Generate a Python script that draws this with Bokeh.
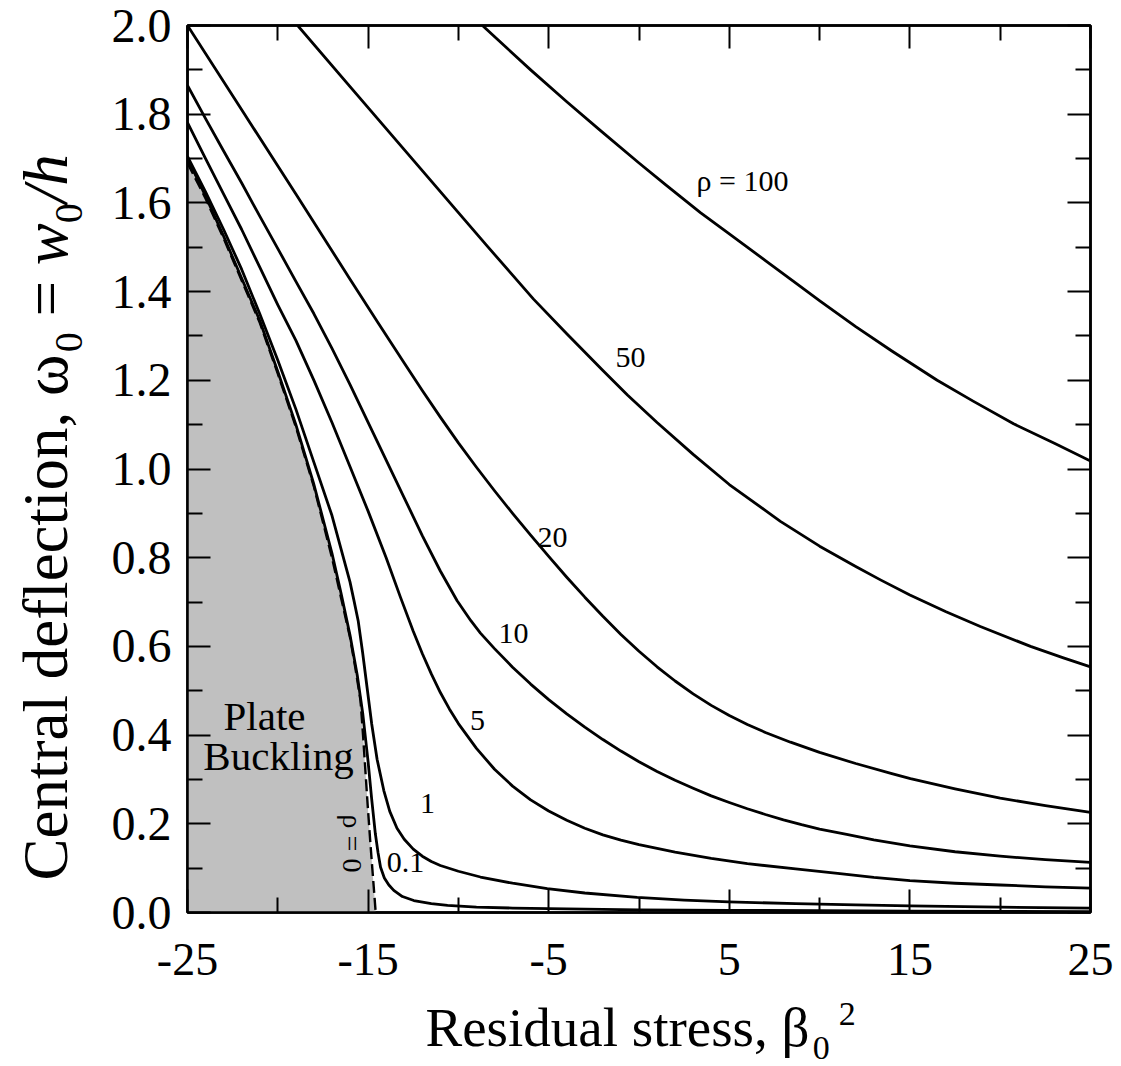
import math
from bokeh.plotting import figure
from bokeh.models import FixedTicker, LinearAxis, Label, NumeralTickFormatter, Range1d
from bokeh.layouts import column, row
from bokeh.embed import file_html
from bokeh.resources import INLINE

# ---------------- data ----------------
x_ticks = [-25, -15, -5, 5, 15, 25]
x_minor = [-20, -10, 0, 10, 20]
y_ticks = [0.0, 0.2, 0.4, 0.6, 0.8, 1.0, 1.2, 1.4, 1.6, 1.8, 2.0]
y_minor = [0.1, 0.3, 0.5, 0.7, 0.9, 1.1, 1.3, 1.5, 1.7, 1.9]

rho0_x = [-25, -24, -23, -22, -21, -20, -19, -18, -17, -16.5, -16, -15.7, -15.42, -15.28, -15.15, -15.02, -14.88, -14.73, -14.58]
rho0_y = [1.69, 1.61, 1.52, 1.425, 1.33, 1.215, 1.095, 0.96, 0.80, 0.71, 0.62, 0.55, 0.478, 0.40, 0.32, 0.24, 0.16, 0.08, 0.0]

rho01_x = [-25, -24, -23, -22, -21, -20, -19, -18, -17, -16.5, -16, -15.6, -15.3, -15.0, -14.8, -14.6, -14.45, -14.31,
           -14.1, -13.85, -13.58, -13.1, -12.47, -11.5, -10.6, -9, -7, -4, 0, 5, 10, 15, 20, 25]
rho01_y = [1.70, 1.615, 1.525, 1.43, 1.335, 1.22, 1.10, 0.965, 0.81, 0.72, 0.625, 0.535, 0.45, 0.34, 0.255, 0.178, 0.135, 0.102,
           0.078, 0.062, 0.05, 0.036, 0.027, 0.02, 0.016, 0.012, 0.010, 0.008, 0.006, 0.005, 0.004, 0.003, 0.0025, 0.002]

rho1_x = [-25, -24, -23, -22, -21, -20, -19, -18, -17, -16.5, -16, -15.79, -15.55, -15.3, -15.05, -14.8, -14.5, -14.13,
          -13.8, -13.4, -13, -12.5, -12, -11.5, -11, -10, -8.78, -7, -5.08, -3, -0.1, 2.5, 4.97, 8.67, 12, 15, 20, 25]
rho1_y = [1.705, 1.625, 1.54, 1.45, 1.35, 1.245, 1.135, 1.015, 0.895, 0.82, 0.745, 0.705, 0.658, 0.585, 0.505, 0.425, 0.345, 0.275,
          0.228, 0.19, 0.165, 0.143, 0.127, 0.115, 0.106, 0.093, 0.08, 0.066, 0.054, 0.044, 0.034, 0.028, 0.024, 0.02, 0.017, 0.015, 0.012, 0.0097]

rho5_x = [-25, -24, -23, -22, -21, -20, -19, -18, -17, -16, -15, -14, -13.2, -12.5, -12, -11.5, -11, -10.5, -10, -9, -8, -7,
          -6, -5, -4, -3, -2, -1, 0, 2, 4, 6, 8.67, 11, 13, 15, 17.5, 20, 22.5, 25]
rho5_y = [1.781, 1.70, 1.62, 1.54, 1.455, 1.37, 1.29, 1.20, 1.105, 1.005, 0.905, 0.80, 0.71, 0.634, 0.584, 0.538, 0.496, 0.459, 0.426, 0.37, 0.323, 0.285,
          0.254, 0.229, 0.208, 0.19, 0.175, 0.163, 0.153, 0.136, 0.122, 0.11, 0.0985, 0.088, 0.079, 0.072, 0.066, 0.062, 0.058, 0.055]

rho10_x = [-25, -24, -23, -22, -21, -20, -19, -18, -17, -16, -15, -14, -13, -12, -11, -10.07, -9.31, -8.78, -8, -7, -6, -5,
           -4, -3, -2, -1, 0, 1, 2, 3, 4, 5, 6, 7, 8, 9, 10, 11.5, 13, 15, 17.5, 20, 22.5, 25]
rho10_y = [1.865, 1.79, 1.717, 1.645, 1.57, 1.497, 1.423, 1.35, 1.272, 1.19, 1.105, 1.02, 0.935, 0.85, 0.77, 0.703, 0.658, 0.63, 0.595, 0.553, 0.515, 0.48,
           0.448, 0.418, 0.39, 0.364, 0.34, 0.318, 0.298, 0.28, 0.263, 0.248, 0.234, 0.221, 0.209, 0.198, 0.188, 0.176, 0.164, 0.15, 0.137, 0.127, 0.119, 0.113]

rho20_x = [-25, -22, -19, -16, -14.45, -13, -12, -11, -10, -9, -8, -7, -6, -5, -4, -3, -2, -1, 0, 1, 2, 3, 4, 5, 6, 7, 8.39,
           10, 12, 14, 15.03, 17.5, 20, 22.5, 25]
rho20_y = [2.0, 1.81, 1.62, 1.428, 1.33, 1.239, 1.177, 1.117, 1.059, 1.004, 0.951, 0.9, 0.851, 0.803, 0.756, 0.711, 0.668, 0.627, 0.589,
           0.554, 0.522, 0.493, 0.467, 0.444, 0.424, 0.406, 0.384, 0.361, 0.336, 0.313, 0.302, 0.279, 0.258, 0.241, 0.226]

rho50_x = [-18.9, -16, -13, -10, -8.39, -7, -5.84, -4, -2, -0.64, 1, 3, 5, 7.83, 10, 12, 13.37, 15, 17, 18.9, 21.68, 23.5, 25]
rho50_y = [2.0, 1.862, 1.72, 1.578, 1.502, 1.437, 1.383, 1.305, 1.222, 1.167, 1.105, 1.033, 0.965, 0.882, 0.826, 0.78, 0.75, 0.716, 0.678,
           0.645, 0.6, 0.574, 0.554]

rho100_x = [-8.67, -6, -4, -2.13, 0, 1.5, 3.4, 5, 7, 8.5, 10.05, 12, 14, 16.51, 18.5, 20.74, 23, 25]
rho100_y = [2.0, 1.9, 1.828, 1.763, 1.69, 1.64, 1.578, 1.53, 1.47, 1.425, 1.378, 1.321, 1.266, 1.2, 1.153, 1.102, 1.058, 1.018]

curve_labels = ["\u03c1 = 100", "50", "20", "10", "5", "1", "0.1"]

# ---------------- layout constants ----------------
W, H = 1121, 1066
L, R, T, B = 187, 1090, 25, 912      # plot frame in page pixels
HM = 994                              # height of the main row
LW = 100                              # width of the y-title strip
X0, X1, Y0, Y1 = -25, 25, 0.0, 2.0
FONT = "Liberation Serif"


def X(px):
    return X0 + (px - L) * (X1 - X0) / (R - L)


def Y(py):
    return Y0 + (B - py) * (Y1 - Y0) / (B - T)


def blank_fig(w, h, top, bottom):
    # frame spans rows [top, h - bottom] of this strip; data units = pixels
    f = figure(width=w, height=h, output_backend="svg", toolbar_location=None, title=None,
               x_range=Range1d(0, w), y_range=Range1d(bottom, h - top),
               min_border_left=0, min_border_right=0, min_border_top=top, min_border_bottom=bottom,
               x_axis_location=None, y_axis_location=None)
    f.outline_line_color = None
    f.background_fill_color = "white"
    f.border_fill_color = "white"
    f.xgrid.visible = False
    f.ygrid.visible = False
    return f


# ---------------- main plot ----------------
p = figure(width=W - LW, height=HM, output_backend="svg", toolbar_location=None, title=None,
           x_range=Range1d(X0, X1), y_range=Range1d(Y0, Y1),
           min_border_left=L - LW, min_border_right=W - R, min_border_top=T, min_border_bottom=HM - B,
           x_axis_location=None, y_axis_location=None)
p.background_fill_color = "white"
p.border_fill_color = "white"
p.outline_line_color = "black"
p.outline_line_width = 2.5
p.xgrid.visible = False
p.ygrid.visible = False

xt = FixedTicker(ticks=x_ticks, minor_ticks=x_minor)
yt = FixedTicker(ticks=y_ticks, minor_ticks=y_minor)


def style_axis(ax, labels=True):
    ax.axis_line_color = "black"
    ax.axis_line_width = 2.5
    ax.major_tick_in = 23
    ax.major_tick_out = 0
    ax.minor_tick_in = 15
    ax.minor_tick_out = 0
    ax.major_tick_line_width = 2
    ax.minor_tick_line_width = 2
    ax.major_tick_line_color = "black"
    ax.minor_tick_line_color = "black"
    if labels:
        ax.major_label_text_font = FONT
        ax.major_label_text_color = "black"
    else:
        ax.major_label_text_font_size = "0px"
        ax.major_label_text_color = None
        ax.major_label_standoff = 0


xb = LinearAxis(ticker=xt, formatter=NumeralTickFormatter(format="0"))
style_axis(xb)
xb.major_label_text_font_size = "46px"
xb.major_label_standoff = 31
p.add_layout(xb, "below")

yl = LinearAxis(ticker=yt, formatter=NumeralTickFormatter(format="0.0"))
style_axis(yl)
yl.major_label_text_font_size = "48px"
yl.major_label_standoff = 16
p.add_layout(yl, "left")

xa = LinearAxis(ticker=xt)
style_axis(xa, labels=False)
p.add_layout(xa, "above")
yr = LinearAxis(ticker=yt)
style_axis(yr, labels=False)
p.add_layout(yr, "right")

# gray plate-buckling region bounded by the rho = 0 curve
p.patch([X0] + rho0_x, [0.0] + rho0_y, fill_color="#c0c0c0", line_color=None)

for xs, ys in [(rho01_x, rho01_y), (rho1_x, rho1_y), (rho5_x, rho5_y), (rho10_x, rho10_y),
               (rho20_x, rho20_y), (rho50_x, rho50_y), (rho100_x, rho100_y)]:
    p.line(xs, ys, line_color="black", line_width=2.8, line_join="round")
p.line(rho0_x, rho0_y, line_color="black", line_width=2.4, line_dash="12 5")

# curve labels: text centers in page pixels
label_pos = [(742, 180), (630, 357), (552, 537), (513, 633), (477, 720), (427, 803), (405, 862)]
for txt, (px, py) in zip(curve_labels, label_pos):
    p.add_layout(Label(x=X(px), y=Y(py), text=txt, text_font=FONT, text_font_size="30px",
                       text_align="center", text_baseline="middle", text_color="black"))

p.add_layout(Label(x=X(352), y=Y(843), text="\u03c1 = 0", text_font=FONT, text_font_size="28px",
                   angle=-math.pi / 2, text_align="center", text_baseline="middle", text_color="black"))
p.add_layout(Label(x=X(264), y=Y(715), text="Plate", text_font=FONT, text_font_size="41px",
                   text_align="center", text_baseline="middle", text_color="black"))
p.add_layout(Label(x=X(278), y=Y(755), text="Buckling", text_font=FONT, text_font_size="41px",
                   text_align="center", text_baseline="middle", text_color="black"))

# text width table (Times / Liberation Serif metrics, per 1000 em)
TW = {' ': 250, ',': 250, '.': 250, '-': 333, '=': 564, '/': 278, '0': 500, '2': 500,
      'C': 667, 'R': 667, 'a': 444, 'c': 444, 'd': 500, 'e': 444, 'f': 333, 'i': 278,
      'l': 278, 'n': 500, 'o': 500, 'r': 333, 's': 389, 't': 278, 'u': 500, 'w': 667,
      'h': 500, '\u03b2': 550, '\u03c9': 690}


def tw(s, size):
    return sum(TW.get(c, 500) for c in s) * size / 1000.0


# ---------------- y-axis title strip (frame aligned with the plot frame) ----------------
yf = blank_fig(LW, HM, T, HM - B)
FY, FYS = 63, 40
main_cx, sub_cx = 45, 68
pieces = [("Central deflection, \u03c9", FY, main_cx, "normal", 0.0),
          ("0", FYS, sub_cx, "normal", 0.0),
          ("=", FY, main_cx, "normal", 0.25),
          ("w", FY, main_cx, "italic", 0.25),
          ("0", FYS, sub_cx, "normal", 0.0),
          ("/h", FY, main_cx, "italic", 0.0)]
cur = 880
for txt, sz, cx, style, gap in pieces:
    cur -= gap * FY
    yf.add_layout(Label(x=cx, y=HM - cur, text=txt, text_font=FONT, text_font_size=f"{sz}px",
                        text_font_style=style, angle=math.pi / 2, text_align="left",
                        text_baseline="middle", text_color="black"))
    cur -= tw(txt, sz)

# ---------------- x-axis title strip ----------------
xf = blank_fig(W, H - HM, 0, 0)
FX, FXS = 55, 34
xs0 = 425
t1 = "Residual stress, \u03b2"
w1 = tw(t1, FX)
xf.add_layout(Label(x=xs0, y=H - 1027, text=t1, text_font=FONT, text_font_size=f"{FX}px",
                    text_align="left", text_baseline="middle", text_color="black"))
xf.add_layout(Label(x=xs0 + w1 + 1, y=H - 1047, text="0", text_font=FONT, text_font_size=f"{FXS}px",
                    text_align="left", text_baseline="middle", text_color="black"))
xf.add_layout(Label(x=xs0 + w1 + tw("0", FXS) + 10, y=H - 1013, text="2", text_font=FONT,
                    text_font_size=f"{FXS}px", text_align="left", text_baseline="middle", text_color="black"))

layout = column(row(yf, p, spacing=0), xf, spacing=0)
open("out.html", "w").write(file_html(layout, INLINE))
